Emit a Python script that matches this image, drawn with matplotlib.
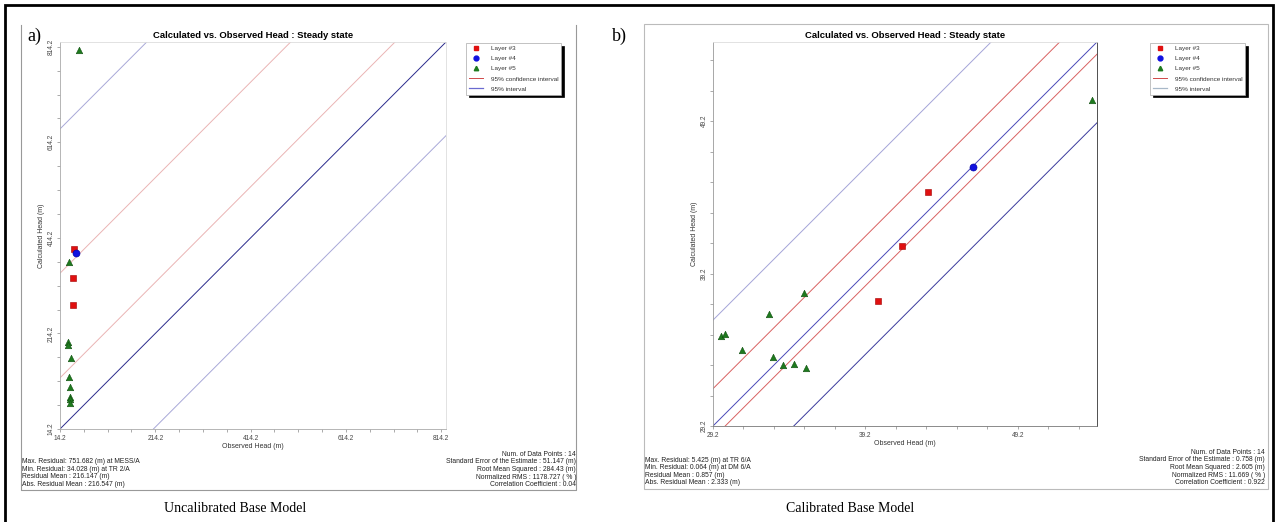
import matplotlib
matplotlib.use("Agg")
import matplotlib.pyplot as plt
import matplotlib.patches as mpatches
from matplotlib.lines import Line2D
import numpy as np

W, H = 1277, 522

# --- data: a) uncalibrated model ---
a_obs_l3 = [44.2, 42.1, 40.9]
a_calc_l3 = [391.3, 329.6, 273.0]
a_obs_l4 = [47.8]
a_calc_l4 = [382.1]
a_obs_l5 = [54.7, 33.7, 31.0, 30.4, 36.7, 32.5, 34.6, 35.2, 35.8, 35.8]
a_calc_l5 = [807.5, 363.2, 196.1, 189.0, 162.6, 122.7, 101.7, 82.0, 77.2, 68.1]
a_conf = [107.0, 326.0]      # offsets of 95% confidence lines from 1:1
a_int = [-196.0, 628.0]      # offsets of 95% interval lines
a_lim = [14.2, 824.2]
a_ticks = [14.2, 214.2, 414.2, 614.2, 814.2]
a_left = ["Max. Residual: 751.682 (m) at MESS/A",
          "Min. Residual: 34.028 (m) at TR 2/A",
          "Residual Mean : 216.147 (m)",
          "Abs. Residual Mean : 216.547 (m)"]
a_right = ["Num. of Data Points : 14",
           "Standard Error of the Estimate : 51.147 (m)",
           "Root Mean Squared : 284.43 (m)",
           "Normalized RMS : 1178.727 ( % )",
           "Correlation Coefficient : 0.04"]

# --- data: b) calibrated model ---
b_obs_l3 = [40.02, 41.6, 43.3]
b_calc_l3 = [37.38, 40.98, 44.54]
b_obs_l4 = [46.26]
b_calc_l4 = [46.17]
b_obs_l5 = [54.1, 29.7, 29.97, 31.13, 32.85, 33.13, 33.79, 34.49, 35.17, 35.32]
b_calc_l5 = [50.6, 35.13, 35.21, 34.21, 36.57, 33.75, 33.23, 33.29, 37.92, 32.98]
b_conf = [-0.8, 2.45]
b_int = [-5.3, 6.95]
b_lim = [29.2, 54.4]
b_ticks = [29.2, 39.2, 49.2]
b_left = ["Max. Residual: 5.425 (m) at TR 6/A",
          "Min. Residual: 0.064 (m) at DM 6/A",
          "Residual Mean : 0.857 (m)",
          "Abs. Residual Mean : 2.333 (m)"]
b_right = ["Num. of Data Points : 14",
           "Standard Error of the Estimate : 0.758 (m)",
           "Root Mean Squared : 2.605 (m)",
           "Normalized RMS : 11.669 ( % )",
           "Correlation Coefficient : 0.922"]

TITLE = "Calculated vs. Observed Head : Steady state"
SANS = "Liberation Sans"
SERIF = "Liberation Serif"

fig = plt.figure(figsize=(W / 100, H / 100), dpi=100)


def fx(x):
    return x / W


def fy(y):
    return 1 - y / H


def box(x0, y0, x1, y1):
    return [fx(x0), fy(y1), (x1 - x0) / W, (y1 - y0) / H]


def panel(rect, lim, ticks, minor, data, conf, inter, cols, right_dark, leg_xy):
    ax = fig.add_axes(rect)
    (o3, c3), (o4, c4), (o5, c5) = data
    xs = np.array(lim)
    ax.plot(xs, xs, color=cols[4], lw=0.7, zorder=2)
    for off in conf:
        ax.plot(xs, xs + off, color=cols[0], lw=0.7, zorder=1)
    ax.plot(xs, xs + inter[0], color=cols[1], lw=0.7, zorder=1)
    ax.plot(xs, xs + inter[1], color=cols[2], lw=0.7, zorder=1)
    ax.scatter(o3, c3, marker="s", s=22, color="#e01010", edgecolor="#a00000", lw=0.4, zorder=3)
    ax.scatter(o4, c4, marker="o", s=26, color="#1010e0", edgecolor="#0000a0", lw=0.4, zorder=3)
    ax.scatter(o5, c5, marker="^", s=22, color="#1e7a1e", edgecolor="#0f4f0f", lw=0.4, zorder=3)
    ax.set_xlim(lim)
    ax.set_ylim(lim)
    ax.set_xticks(ticks)
    ax.set_yticks(ticks)
    ax.set_xticks(np.arange(lim[0] + minor, lim[1], minor), minor=True)
    ax.set_yticks(np.arange(lim[0] + minor, lim[1], minor), minor=True)
    ax.set_xticklabels([f"{t:.1f}" for t in ticks], fontsize=4.7, family=SANS, color="#444444")
    ax.set_yticklabels([f"{t:.1f}" for t in ticks], fontsize=4.7, family=SANS, color="#444444",
                       rotation=90, va="center")
    ax.tick_params(which="both", length=2.5, width=0.5, color="#888888", pad=1.5)
    ax.set_xlabel("Observed Head (m)", fontsize=5, family=SANS, color="#333333", labelpad=1)
    ax.set_ylabel("Calculated Head (m)", fontsize=5, family=SANS, color="#333333", labelpad=2)
    ax.set_title(TITLE, fontsize=6.8, family=SANS, fontweight="bold", pad=3)
    for s in ["top", "right"]:
        ax.spines[s].set_color("#dddddd")
    for s in ["left", "bottom"]:
        ax.spines[s].set_color("#aaaaaa")
    if right_dark:
        ax.spines["right"].set_color("#333333")
        ax.spines["left"].set_color("#999999")
        ax.spines["bottom"].set_color("#777777")
    for s in ax.spines.values():
        s.set_linewidth(0.6)

    handles = [
        Line2D([], [], marker="s", ls="none", color="#e01010", ms=3),
        Line2D([], [], marker="o", ls="none", color="#1010e0", ms=3.5),
        Line2D([], [], marker="^", ls="none", color="#1e7a1e", ms=3.2),
        Line2D([], [], color="#d04848", lw=0.7),
        Line2D([], [], color=cols[3], lw=0.9),
    ]
    labels = ["Layer #3", "Layer #4", "Layer #5", "95% confidence interval", "95% interval"]
    leg = fig.legend(handles, labels, loc="upper left", bbox_to_anchor=(fx(leg_xy[0]), fy(leg_xy[1])),
                     bbox_transform=fig.transFigure, prop={"family": SANS, "size": 4.6},
                     frameon=True, fancybox=False, shadow={"color": "black", "alpha": 1},
                     handlelength=2.2, handletextpad=1.2, borderpad=0.45, labelspacing=0.72,
                     borderaxespad=0)
    leg.get_frame().set_edgecolor("#aaaaaa")
    leg.get_frame().set_linewidth(0.5)
    for t in leg.get_texts():
        t.set_color("#333333")
    return ax


panel(box(60, 42, 446, 429), a_lim, a_ticks, 50,
      [(a_obs_l3, a_calc_l3), (a_obs_l4, a_calc_l4), (a_obs_l5, a_calc_l5)],
      a_conf, a_int, ["#eab4b4", "#a8a8d8", "#a8a8d8", "#6a6ad0", "#2a2a8c"], False, (466, 43))
panel(box(713, 42, 1097, 426), b_lim, b_ticks, 2,
      [(b_obs_l3, b_calc_l3), (b_obs_l4, b_calc_l4), (b_obs_l5, b_calc_l5)],
      b_conf, b_int, ["#d86060", "#3a3a9c", "#a4a4d8", "#a8b8c8", "#4848b8"], True, (1150, 43))

# statistics text blocks
for x0, lines in [(22, a_left), (645, b_left)]:
    y = 461.5 if x0 < 600 else 460
    for ln in lines:
        fig.text(fx(x0), fy(y), ln, fontsize=4.9, family=SANS, color="#222222", va="center", ha="left")
        y += 7.6
for x1, lines in [(576, a_right), (1265, b_right)]:
    y = 454 if x1 < 600 else 452
    for ln in lines:
        fig.text(fx(x1), fy(y), ln, fontsize=4.9, family=SANS, color="#222222", va="center", ha="right")
        y += 7.7

# panel frames
fig.add_artist(Line2D([fx(21), fx(21), fx(576), fx(576)], [fy(25), fy(490), fy(490), fy(25)],
                      color="#999999", lw=0.8, transform=fig.transFigure))
fig.add_artist(mpatches.Rectangle((fx(644), fy(489)), (1268 - 644) / W, (489 - 24) / H,
                                  fill=False, ec="#bbbbbb", lw=0.8, transform=fig.transFigure))

# outer border
fig.add_artist(mpatches.Rectangle((fx(5), fy(530)), (1273 - 5) / W, (530 - 5) / H,
                                  fill=False, ec="black", lw=2.0, transform=fig.transFigure))

# panel labels and captions
fig.text(fx(27), fy(36), "a)", fontsize=13, family=SERIF, va="center", ha="left")
fig.text(fx(612), fy(36), "b)", fontsize=13, family=SERIF, va="center", ha="left")
fig.text(fx(235), fy(508), "Uncalibrated Base Model", fontsize=10, family=SERIF, va="center", ha="center")
fig.text(fx(850), fy(508), "Calibrated Base Model", fontsize=10, family=SERIF, va="center", ha="center")

fig.savefig("out.png", dpi=100)
